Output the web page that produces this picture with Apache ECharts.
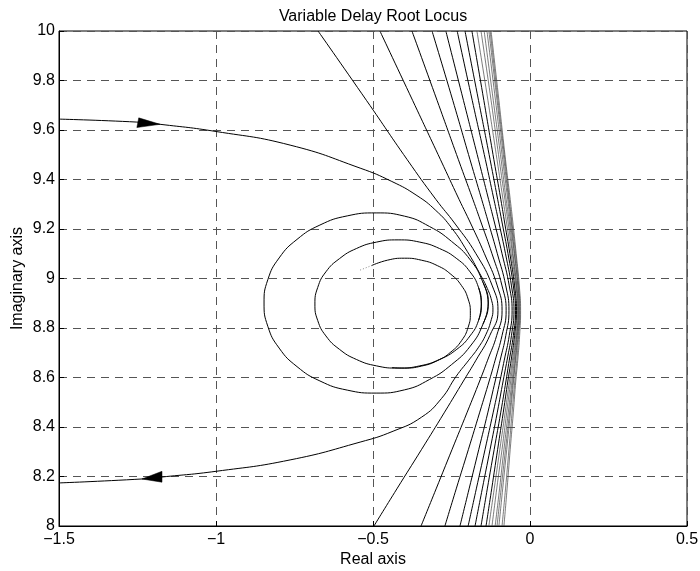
<!DOCTYPE html>
<html><head><meta charset="utf-8">
<script src="https://cdn.jsdelivr.net/npm/echarts@6/dist/echarts.min.js"></script>
<style>html,body{margin:0;padding:0;background:#fff}#c{width:700px;height:571px}</style>
</head><body><div id="c"></div>
<script>
// ---- data ----
const titleText = 'Variable Delay Root Locus';
const xName = 'Real axis';
const yName = 'Imaginary axis';
const xTicks = [-1.5, -1, -0.5, 0, 0.5];
const yTicks = [8, 8.2, 8.4, 8.6, 8.8, 9, 9.2, 9.4, 9.6, 9.8, 10];

// shared imaginary-axis levels for the top-to-bottom branches
const branchY = [10, 9.72, 9.48, 9.32, 9.22, 9.10, 8.97, 8.87, 8.77, 8.67, 8.59, 8.46, 8.31, 8.15, 8.0];
const b1  = [-0.675,-0.521,-0.391,-0.300,-0.238,-0.172,-0.120,-0.102,-0.128,-0.172,-0.210,-0.272,-0.345,-0.424,-0.497];
const b2  = [-0.478,-0.374,-0.285,-0.226,-0.188,-0.145,-0.104,-0.089,-0.106,-0.135,-0.159,-0.200,-0.248,-0.299,-0.347];
const b3  = [-0.376,-0.296,-0.228,-0.182,-0.154,-0.121,-0.089,-0.076,-0.089,-0.111,-0.129,-0.160,-0.196,-0.235,-0.271];
const b4  = [-0.312,-0.246,-0.191,-0.154,-0.131,-0.104,-0.077,-0.067,-0.077,-0.095,-0.110,-0.134,-0.163,-0.194,-0.223];
const b5  = [-0.268,-0.212,-0.164,-0.132,-0.112,-0.089,-0.066,-0.057,-0.066,-0.082,-0.095,-0.117,-0.143,-0.171,-0.197];
const b6  = [-0.232,-0.184,-0.142,-0.115,-0.098,-0.078,-0.059,-0.051,-0.059,-0.073,-0.085,-0.104,-0.127,-0.152,-0.175];
const b7  = [-0.207,-0.164,-0.127,-0.103,-0.088,-0.070,-0.053,-0.046,-0.053,-0.066,-0.076,-0.093,-0.114,-0.136,-0.156];
const b8  = [-0.185,-0.147,-0.115,-0.093,-0.080,-0.064,-0.049,-0.043,-0.049,-0.060,-0.070,-0.085,-0.103,-0.122,-0.140];
const b9  = [-0.169,-0.134,-0.105,-0.086,-0.074,-0.060,-0.045,-0.040,-0.046,-0.056,-0.065,-0.079,-0.096,-0.114,-0.131];
const b10 = [-0.156,-0.124,-0.098,-0.080,-0.069,-0.056,-0.043,-0.038,-0.043,-0.053,-0.061,-0.074,-0.089,-0.106,-0.121];
const b11 = [-0.146,-0.117,-0.092,-0.076,-0.065,-0.054,-0.042,-0.037,-0.042,-0.050,-0.057,-0.069,-0.083,-0.097,-0.111];
const b12 = [-0.137,-0.110,-0.087,-0.071,-0.062,-0.050,-0.039,-0.035,-0.040,-0.047,-0.054,-0.065,-0.078,-0.092,-0.105];
const b13 = [-0.131,-0.105,-0.083,-0.068,-0.059,-0.049,-0.038,-0.034,-0.038,-0.046,-0.052,-0.062,-0.074,-0.087,-0.099];
const b14 = [-0.127,-0.102,-0.080,-0.066,-0.057,-0.046,-0.036,-0.032,-0.036,-0.042,-0.048,-0.057,-0.067,-0.078,-0.089];
const b15 = [-0.124,-0.099,-0.078,-0.063,-0.054,-0.044,-0.034,-0.030,-0.033,-0.039,-0.045,-0.053,-0.063,-0.073,-0.083];

// branch entering from the left (top) and leaving to the left (bottom)
const outerBranch = [[-1.5,9.644],[-1.252,9.632],[-1.178,9.623],[-1.0,9.594],[-0.764,9.539],
  [-0.541,9.446],[-0.440,9.392],[-0.360,9.335],[-0.300,9.275],[-0.250,9.205],[-0.200,9.110],[-0.160,9.020],
  [-0.136,8.960],[-0.122,8.910],[-0.118,8.873],[-0.123,8.835],[-0.140,8.775],[-0.165,8.720],[-0.195,8.670],
  [-0.235,8.605],[-0.282,8.515],[-0.345,8.440],[-0.436,8.383],[-0.541,8.339],
  [-0.764,8.267],[-1.0,8.221],[-1.172,8.198],[-1.236,8.190],[-1.5,8.174]];

// closed loops around the left point (first points repeated at the end to close smoothly)
const outerLoop = [[-0.150,8.815],[-0.133,8.901],[-0.150,8.985],[-0.190,9.075],[-0.250,9.150],[-0.320,9.210],[-0.400,9.252],
  [-0.490,9.265],[-0.582,9.253],[-0.669,9.216],[-0.742,9.158],[-0.799,9.083],[-0.835,8.995],[-0.847,8.901],
  [-0.835,8.807],[-0.799,8.719],[-0.742,8.644],[-0.669,8.586],[-0.582,8.549],[-0.490,8.537],[-0.400,8.550],
  [-0.320,8.592],[-0.250,8.652],[-0.190,8.727],[-0.150,8.815],[-0.133,8.901],[-0.150,8.985]];
const midLoop = [[-0.164,8.830],[-0.155,8.897],[-0.164,8.964],[-0.191,9.027],[-0.233,9.080],[-0.288,9.121],[-0.351,9.147],
  [-0.420,9.156],[-0.489,9.147],[-0.553,9.121],[-0.607,9.080],[-0.650,9.027],[-0.676,8.964],[-0.685,8.897],
  [-0.676,8.830],[-0.650,8.768],[-0.607,8.714],[-0.553,8.673],[-0.489,8.647],[-0.420,8.638],[-0.351,8.647],
  [-0.288,8.673],[-0.233,8.714],[-0.191,8.768],[-0.164,8.830],[-0.155,8.897],[-0.164,8.964]];
const innerArc = [[-0.505,9.052],[-0.454,9.074],[-0.400,9.082],[-0.346,9.074],[-0.295,9.052],[-0.252,9.017],
  [-0.218,8.971],[-0.197,8.917],[-0.190,8.860],[-0.197,8.803],[-0.218,8.749],[-0.252,8.703],[-0.295,8.668],
  [-0.346,8.646],[-0.400,8.638],[-0.440,8.640]];
const innerStart = [[-0.541,9.034],[-0.505,9.052]];

// arrow heads (triangle vertices)
const arrowTop = [[-1.246,9.649],[-1.252,9.610],[-1.178,9.623]];
const arrowBottom = [[-1.236,8.190],[-1.172,8.221],[-1.172,8.177]];

// ---- chart ----
const FONT = 'Liberation Sans, Arial, Helvetica, sans-serif';
const FS = 16;
const branches = [b1,b2,b3,b4,b5,b6,b7,b8,b9,b10,b11,b12,b13,b14,b15];
const lineSeries = (data, extra) => Object.assign({
  type: 'line', data: data, showSymbol: false, symbol: 'none', smooth: 0.5,
  lineStyle: { color: '#000', width: 1 }, silent: true, animation: false, z: 5
}, extra || {});

const series = [];
series.push(lineSeries(outerBranch));
series.push(lineSeries(outerLoop));
series.push(lineSeries(midLoop));
series.push(lineSeries(innerArc));
series.push(lineSeries(innerStart, { smooth: false, lineStyle: { color: '#888', width: 1, type: [1, 2] } }));
branches.forEach(function (xs, i) {
  const pts = xs.map(function (x, k) { return [x, branchY[k]]; });
  const light = i >= 8;
  series.push(lineSeries(pts, { lineStyle: { color: light ? '#444' : '#000', width: light ? 0.7 : 1 } }));
});
[arrowTop, arrowBottom].forEach(function (tri) {
  series.push({
    type: 'custom', silent: true, animation: false, z: 6,
    data: [tri[2]],
    renderItem: function (params, api) {
      return { type: 'polygon', shape: { points: tri.map(function (p) { return api.coord(p); }) },
               style: { fill: '#000', stroke: '#000', lineWidth: 0.5 } };
    }
  });
});

const chart = echarts.init(document.getElementById('c'), null, { renderer: 'canvas' });
const minus = function (v) { return String(v).replace('-', '\u2212'); };
chart.setOption({
  backgroundColor: '#fff',
  animation: false,
  grid: { left: 59, right: 13, top: 31, bottom: 45, containLabel: false, outerBoundsMode: 'none',
          show: true, borderColor: '#000', borderWidth: 1, backgroundColor: 'transparent' },
  graphic: [{ type: 'text', x: 373, y: 17, style: { text: titleText, font: FS + 'px ' + FONT, fill: '#000', align: 'center', verticalAlign: 'middle' } }],
  xAxis: {
    type: 'value', min: xTicks[0], max: xTicks[xTicks.length - 1], interval: 0.5,
    name: xName, nameLocation: 'middle', nameGap: 26, nameMoveOverlap: false,
    nameTextStyle: { fontFamily: FONT, fontSize: FS, color: '#000' },
    axisLine: { show: true, onZero: false, lineStyle: { color: '#000', width: 1 } },
    axisTick: { show: true, inside: true, length: 5, lineStyle: { color: '#000' } },
    axisLabel: { fontFamily: FONT, fontSize: FS, color: '#000', margin: 6, formatter: minus, showMinLabel: true, showMaxLabel: true },
    splitLine: { show: true, lineStyle: { color: '#555', width: 1, type: [8, 6] } }
  },
  yAxis: {
    type: 'value', min: yTicks[0], max: yTicks[yTicks.length - 1], interval: 0.2,
    name: yName, nameLocation: 'middle', nameGap: 33, nameRotate: 90, nameMoveOverlap: false,
    nameTextStyle: { fontFamily: FONT, fontSize: FS, color: '#000' },
    axisLine: { show: true, onZero: false, lineStyle: { color: '#000', width: 1 } },
    axisTick: { show: true, inside: true, length: 5, lineStyle: { color: '#000' } },
    axisLabel: { fontFamily: FONT, fontSize: FS, color: '#000', margin: 4, showMinLabel: true, showMaxLabel: true },
    splitLine: { show: true, lineStyle: { color: '#555', width: 1, type: [8, 6] } }
  },
  series: series
});
</script></body></html>
